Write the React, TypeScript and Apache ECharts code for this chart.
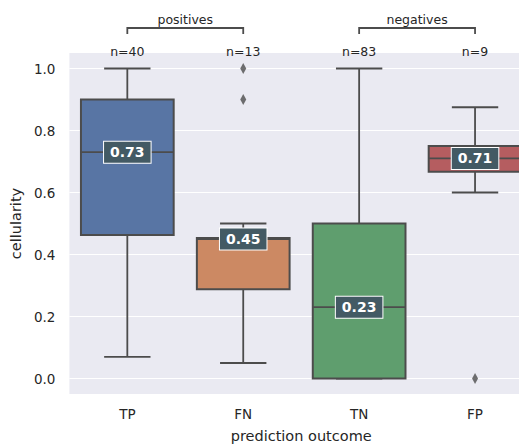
import React, { useEffect, useRef } from "react";
import * as echarts from "echarts";

const categories = ["TP", "FN", "TN", "FP"];
const counts = [40, 13, 83, 9];
const whiskerLow = [0.07, 0.05, 0.0, 0.6];
const q1 = [0.463, 0.288, 0.0, 0.667];
const medians = [0.73, 0.45, 0.23, 0.71];
const q3 = [0.9, 0.453, 0.5, 0.75];
const whiskerHigh = [1.0, 0.5, 1.0, 0.875];
const outliers: [number, number][] = [
  [1, 1.0],
  [1, 0.9],
  [3, 0.0],
];
const groupNames = ["positives", "negatives"];
const groupFrom = [0, 2];
const groupTo = [1, 3];
const yTicks = [0, 0.2, 0.4, 0.6, 0.8, 1.0];
const boxColors = ["#5875a4", "#cc8963", "#5f9e6e", "#b55d60"];

const FONT = "DejaVu Sans";
const EDGE = "#4c4c4c";

export default function App() {
  const ref = useRef<HTMLDivElement>(null);
  useEffect(() => {
    document.body.style.margin = "0";
    const chart = echarts.init(ref.current!, null, { renderer: "svg" });
    const boxData = categories.map((_, i) => [
      i,
      whiskerLow[i],
      q1[i],
      medians[i],
      q3[i],
      whiskerHigh[i],
    ]);
    const groupData = groupNames.map((_, g) => [groupFrom[g], groupTo[g], g]);
    const countData = categories.map((_, i) => [i, counts[i]]);

    chart.setOption({
      animation: false,
      grid: {
        left: 66,
        top: 53,
        width: 467,
        height: 346,
        show: true,
        backgroundColor: "#eaeaf2",
        borderWidth: 0,
        containLabel: false,
      },
      xAxis: {
        type: "category",
        data: categories,
        axisLine: { show: false },
        axisTick: { show: false },
        splitLine: { show: false },
        axisLabel: {
          color: "#262626",
          fontFamily: FONT,
          fontSize: 13.5,
          margin: 13,
        },
        name: "prediction outcome",
        nameLocation: "middle",
        nameGap: 34,
        nameTextStyle: { color: "#262626", fontFamily: FONT, fontSize: 14.5 },
      },
      yAxis: {
        type: "value",
        min: -0.05,
        max: 1.05,
        axisLine: { show: false },
        axisTick: { show: false, customValues: yTicks },
        axisLabel: {
          customValues: yTicks,
          formatter: (v: number) => v.toFixed(1),
          color: "#262626",
          fontFamily: FONT,
          fontSize: 13.5,
          margin: 14,
        },
        splitLine: { show: true, lineStyle: { color: "#ffffff", width: 1 } },
        name: "cellularity",
        nameLocation: "middle",
        nameGap: 41,
        nameTextStyle: { color: "#262626", fontFamily: FONT, fontSize: 14.5 },
      },
      series: [
        {
          type: "custom",
          clip: false,
          data: boxData,
          encode: { x: 0, y: [1, 2, 3, 4, 5] },
          renderItem: (params: any, api: any) => {
            const idx = api.value(0);
            const i = params.dataIndex;
            const band = api.size([1, 0])[0];
            const bw = band * 0.8;
            const cx = api.coord([idx, 0])[0];
            const yl = api.coord([idx, api.value(1)])[1];
            const yq1 = api.coord([idx, api.value(2)])[1];
            const ym = api.coord([idx, api.value(3)])[1];
            const yq3 = api.coord([idx, api.value(4)])[1];
            const yh = api.coord([idx, api.value(5)])[1];
            const capHalf = bw / 4;
            const lineStyle = { stroke: EDGE, lineWidth: 1.8 };
            return {
              type: "group",
              children: [
                {
                  type: "line",
                  shape: { x1: cx, y1: yq1, x2: cx, y2: yl },
                  style: lineStyle,
                },
                {
                  type: "line",
                  shape: { x1: cx, y1: yq3, x2: cx, y2: yh },
                  style: lineStyle,
                },
                {
                  type: "line",
                  shape: { x1: cx - capHalf, y1: yl, x2: cx + capHalf, y2: yl },
                  style: lineStyle,
                },
                {
                  type: "line",
                  shape: { x1: cx - capHalf, y1: yh, x2: cx + capHalf, y2: yh },
                  style: lineStyle,
                },
                {
                  type: "rect",
                  shape: { x: cx - bw / 2, y: yq3, width: bw, height: yq1 - yq3 },
                  style: { fill: boxColors[i], stroke: EDGE, lineWidth: 2 },
                },
                {
                  type: "line",
                  shape: { x1: cx - bw / 2, y1: ym, x2: cx + bw / 2, y2: ym },
                  style: lineStyle,
                },
                {
                  type: "text",
                  style: {
                    text: api.value(3).toFixed(2),
                    x: cx,
                    y: ym,
                    align: "center",
                    verticalAlign: "middle",
                    fill: "#ffffff",
                    font: `bold 14px "${FONT}"`,
                    backgroundColor: "#435a64",
                    borderColor: "#ffffff",
                    borderWidth: 1,
                    padding: [4, 6, 3, 6],
                  },
                },
              ],
            };
          },
          z: 2,
        },
        {
          type: "scatter",
          data: outliers,
          symbol: "diamond",
          symbolSize: [6, 11],
          itemStyle: { color: EDGE },
          z: 3,
        },
        {
          type: "custom",
          clip: false,
          data: countData,
          encode: { x: 0, y: 1 },
          renderItem: (params: any, api: any) => {
            const idx = api.value(0);
            const cx = api.coord([idx, 0])[0];
            const top = params.coordSys.y;
            return {
              type: "text",
              style: {
                text: "n=" + api.value(1),
                x: cx,
                y: top - 2,
                align: "center",
                verticalAlign: "middle",
                fill: "#262626",
                font: `12.5px "${FONT}"`,
              },
            };
          },
          z: 4,
        },
        {
          type: "custom",
          clip: false,
          data: groupData,
          encode: { x: [0, 1] },
          renderItem: (params: any, api: any) => {
            const x1 = api.coord([api.value(0), 0])[0];
            const x2 = api.coord([api.value(1), 0])[0];
            const g = api.value(2);
            const top = params.coordSys.y;
            const yb = top - 25;
            return {
              type: "group",
              children: [
                {
                  type: "polyline",
                  shape: {
                    points: [
                      [x1, yb + 6],
                      [x1, yb],
                      [x2, yb],
                      [x2, yb + 6],
                    ],
                  },
                  style: { stroke: EDGE, lineWidth: 1.8, fill: "none" },
                },
                {
                  type: "text",
                  style: {
                    text: groupNames[g],
                    x: (x1 + x2) / 2,
                    y: yb - 9,
                    align: "center",
                    verticalAlign: "middle",
                    fill: "#262626",
                    font: `12.5px "${FONT}"`,
                  },
                },
              ],
            };
          },
          z: 4,
        },
      ],
    });
    return () => chart.dispose();
  }, []);
  return (
    <div style={{ width: 519, height: 448, overflow: "hidden" }}>
      <div ref={ref} style={{ width: 560, height: 448 }} />
    </div>
  );
}
